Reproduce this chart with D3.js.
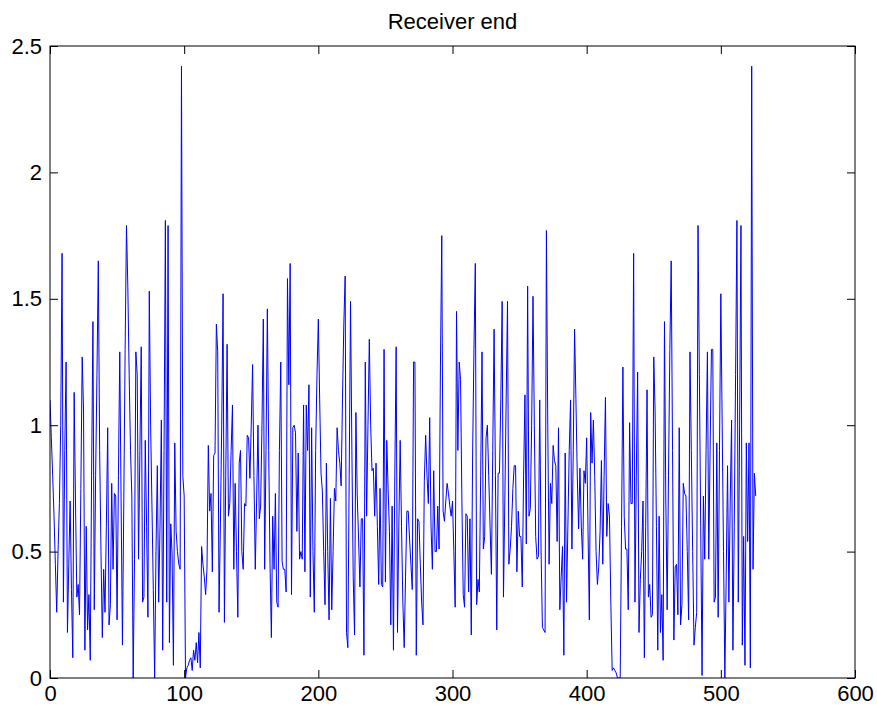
<!DOCTYPE html>
<html>
<head>
<meta charset="utf-8">
<script src="https://cdn.jsdelivr.net/npm/d3@7"></script>
<style>
  body { margin: 0; background: #fff; }
  text { font-family: "Liberation Sans", Arial, sans-serif; }
</style>
</head>
<body>
<script>
var width = 877;
var height = 713;

// chart text + ticks
var chartTitle = "Receiver end";
var xTicks = [0, 100, 200, 300, 400, 500, 600];
var yTicks = [0, 0.5, 1, 1.5, 2, 2.5];

// received samples (index 0..526)
var received = [
  // 0-43
  1.1, 0.95, 0.8, 0.64, 0.45, 0.26, 0.5, 0.69, 1.0, 1.68, 0.30, 0.9, 1.25, 0.18, 0.45, 0.70, 0.35, 0.08, 1.13, 0.7, 0.32, 0.37,
  0.25, 0.75, 1.27, 1.06, 0.11, 0.60, 0.19, 0.33, 0.07, 0.8, 1.41, 0.27, 0.8, 1.2, 1.65, 0.9, 0.5, 0.16, 0.43, 0.26, 0.6, 0.99,
  // 44-88
  0.21, 0.29, 0.77, 0.43, 0.73, 0.72, 0.23, 0.8, 1.29, 0.7, 0.13, 0.7, 1.3, 1.79, 1.55, 1.2, 0.9, 0.72, 0.0, 0.47, 1.29, 1.2, 0.47,
  0.9, 1.31, 0.30, 0.32, 0.94, 0.6, 0.24, 1.53, 1.0, 0.68, 0.35, 0.0, 0.5, 0.84, 0.30, 0.6, 1.02, 0.11, 0.9, 1.81, 0.30, 1.79,
  // 89-132
  0.14, 0.61, 0.49, 0.05, 0.93, 0.58, 0.5, 0.45, 0.43, 2.42, 0.8, 0.72, 0.0, 0.04, 0.05, 0.07, 0.08, 0.03, 0.11, 0.07, 0.14, 0.06,
  0.18, 0.04, 0.52, 0.45, 0.4, 0.33, 0.43, 0.92, 0.66, 0.73, 0.42, 0.88, 0.89, 1.40, 1.29, 0.26, 0.61, 1.0, 1.52, 0.22, 0.8, 1.32,
  // 133-177
  0.64, 0.69, 0.9, 1.08, 0.43, 0.77, 0.5, 0.24, 0.85, 0.90, 0.50, 0.43, 0.69, 0.68, 0.96, 0.95, 0.79, 1.0, 1.24, 0.8, 0.43, 0.7, 1.0,
  0.63, 0.68, 1.0, 1.42, 0.43, 0.9, 1.46, 0.9, 0.45, 0.16, 0.64, 0.43, 0.73, 0.30, 0.28, 0.9, 1.25, 0.46, 0.43, 0.43, 0.34, 1.58,
  // 178-222
  1.16, 1.64, 0.33, 0.99, 1.0, 0.97, 0.58, 0.89, 0.47, 0.5, 0.47, 1.08, 0.42, 1.08, 0.9, 1.16, 0.32, 0.99, 0.50, 0.26, 0.90, 1.2, 1.42,
  1.1, 0.81, 0.74, 0.5, 0.29, 0.85, 0.5, 0.23, 0.71, 0.27, 0.5, 0.75, 0.70, 0.99, 0.9, 0.85, 0.76, 1.1, 1.4, 1.59, 0.18, 0.12,
  // 223-266
  0.8, 1.49, 0.9, 0.4, 0.17, 1.05, 0.72, 0.55, 0.36, 0.63, 0.63, 0.09, 1.25, 0.64, 1.0, 1.34, 1.0, 0.82, 0.83, 0.64, 0.85, 0.6,
  0.37, 0.75, 0.37, 0.36, 1.30, 0.38, 0.94, 0.75, 0.58, 0.21, 0.68, 0.11, 0.8, 1.31, 0.18, 0.6, 0.94, 0.6, 0.3, 0.12, 0.4, 0.66,
  // 267-311
  0.66, 0.55, 0.45, 0.35, 1.25, 1.25, 0.09, 0.63, 0.62, 0.45, 0.3, 0.21, 0.78, 0.96, 0.8, 0.69, 1.03, 0.6, 0.43, 0.82, 0.50, 0.50, 0.68,
  0.51, 1.23, 1.75, 0.66, 0.62, 0.7, 0.77, 0.73, 0.68, 0.64, 0.70, 0.5, 0.28, 1.45, 0.90, 1.25, 1.18, 0.7, 0.33, 0.28, 0.65, 0.64,
  // 312-356
  0.34, 0.63, 0.17, 0.89, 1.3, 1.64, 0.29, 0.39, 0.34, 0.8, 1.29, 0.51, 0.56, 0.95, 1.0, 0.8, 0.6, 0.41, 0.9, 1.38, 0.8, 0.19, 0.81,
  0.81, 1.1, 1.49, 0.32, 0.7, 1.1, 1.49, 0.45, 0.51, 0.6, 0.75, 0.84, 0.84, 0.42, 0.66, 0.56, 0.56, 0.36, 0.8, 1.12, 0.53, 1.55,
  // 357-401
  0.64, 0.67, 1.0, 1.51, 1.0, 0.56, 0.47, 0.48, 1.10, 0.51, 0.20, 0.19, 0.18, 1.77, 1.0, 0.45, 0.77, 0.69, 0.92, 0.86, 0.84, 0.54, 0.99,
  0.27, 0.4, 0.52, 0.09, 0.89, 0.30, 0.6, 0.9, 1.10, 0.51, 0.9, 1.38, 1.1, 0.8, 0.59, 0.83, 0.6, 0.47, 0.82, 0.77, 0.95, 0.59,
  // 402-446
  0.23, 1.05, 0.85, 1.02, 0.8, 0.5, 0.37, 0.44, 0.58, 0.86, 0.45, 0.8, 1.11, 0.56, 0.69, 0.64, 0.3, 0.03, 0.04, 0.03, 0.02, 0.0, 0.0,
  0.0, 0.6, 1.23, 0.64, 0.51, 0.51, 0.27, 1.01, 0.69, 0.69, 1.68, 0.30, 0.8, 1.21, 0.18, 0.39, 0.5, 0.70, 0.08, 0.6, 1.14, 0.32,
  // 447-490
  0.37, 0.24, 0.25, 1.27, 1.06, 0.6, 0.11, 0.64, 0.18, 0.33, 0.07, 1.41, 0.7, 0.27, 0.8, 1.3, 1.65, 0.9, 0.15, 0.44, 0.45, 0.25,
  0.99, 0.21, 0.29, 0.77, 0.73, 0.72, 0.5, 0.23, 1.29, 0.9, 0.5, 0.13, 0.2, 0.26, 1.79, 1.2, 0.6, 0.01, 0.72, 0.47, 0.9, 1.29,
  // 491-526
  0.47, 0.9, 1.30, 1.3, 0.30, 0.32, 0.93, 0.24, 0.9, 1.52, 1.0, 0.5, 0.0, 0.4, 0.84, 0.30, 0.7, 1.02,
  0.11, 0.6, 1.2, 1.81, 0.30, 1.0, 1.79, 0.13, 0.56, 0.05, 0.93, 0.54, 0.93, 0.04, 2.42, 0.43, 0.81, 0.72
];

var margin = {top: 46, right: 22, bottom: 35, left: 50};
var plotW = width - margin.left - margin.right;
var plotH = height - margin.top - margin.bottom;
var tickLen = 8;
var fontPx = "22px";

var svg = d3.select("body").append("svg")
    .attr("width", width)
    .attr("height", height);

var x = d3.scaleLinear().domain([0, 600]).range([0, plotW]);
var y = d3.scaleLinear().domain([0, 2.5]).range([plotH, 0]);

var g = svg.append("g")
    .attr("transform", "translate(" + margin.left + "," + margin.top + ")");

g.append("defs").append("clipPath").attr("id", "clip")
  .append("rect").attr("width", plotW).attr("height", plotH);

// the signal
var line = d3.line()
    .x(function(d, i) { return x(i); })
    .y(function(d) { return y(d); });

g.append("path")
    .datum(received)
    .attr("clip-path", "url(#clip)")
    .attr("fill", "none")
    .attr("stroke", "#0000ff")
    .attr("stroke-width", 1)
    .attr("d", line);

// axes, ticks pointing inward (matlab style)
function styleAxis(sel) {
  sel.select(".domain").remove();
  sel.selectAll(".tick line").attr("stroke", "#000");
  sel.selectAll("text")
    .attr("fill", "#000")
    .style("font-size", fontPx);
}

g.append("g")
    .attr("transform", "translate(0," + plotH + ")")
    .call(d3.axisBottom(x).tickValues(xTicks).tickSize(-tickLen).tickPadding(7).tickFormat(d3.format("d")))
    .call(styleAxis);

g.append("g")
    .call(d3.axisLeft(y).tickValues(yTicks).tickSize(-tickLen).tickPadding(8).tickFormat(function(d) { return String(d); }))
    .call(styleAxis);

g.append("g")
    .call(d3.axisTop(x).tickValues(xTicks).tickSize(-tickLen).tickFormat(""))
    .call(styleAxis);

g.append("g")
    .attr("transform", "translate(" + plotW + ",0)")
    .call(d3.axisRight(y).tickValues(yTicks).tickSize(-tickLen).tickFormat(""))
    .call(styleAxis);

// box
g.append("rect")
    .attr("width", plotW)
    .attr("height", plotH)
    .attr("fill", "none")
    .attr("stroke", "#000")
    .attr("stroke-width", 1);

svg.append("text")
    .attr("x", margin.left + plotW / 2)
    .attr("y", margin.top - 17)
    .attr("text-anchor", "middle")
    .style("font-size", fontPx)
    .text(chartTitle);
</script>
</body>
</html>
